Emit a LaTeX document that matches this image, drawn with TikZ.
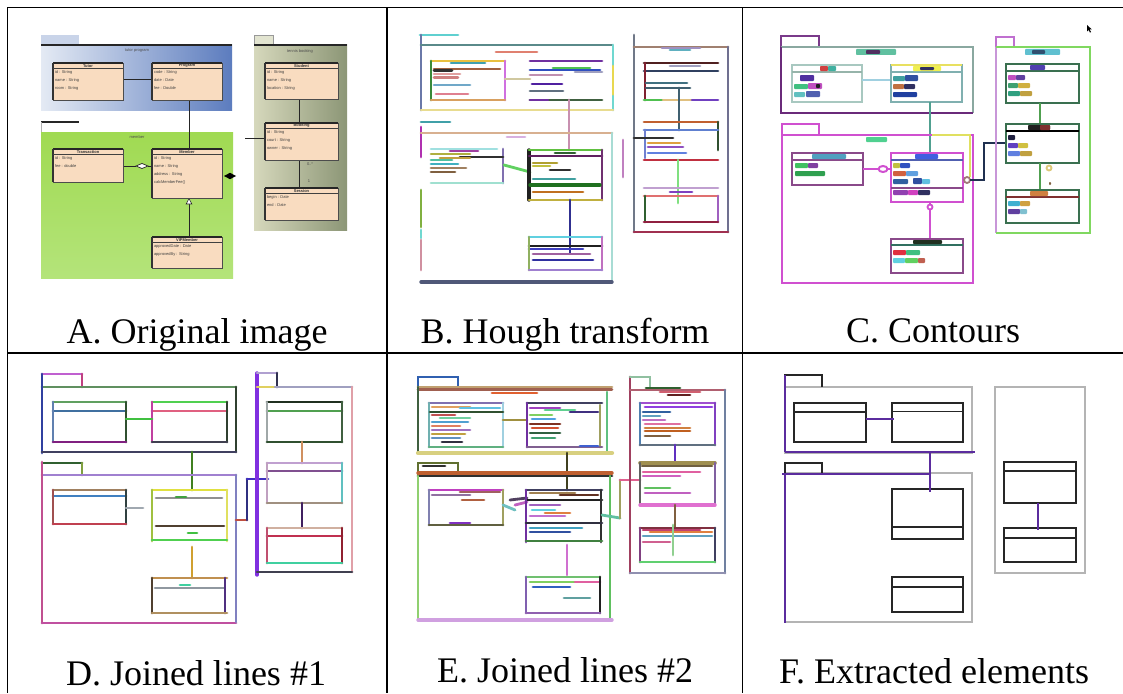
\documentclass[tikz,border=0pt]{standalone}
\usepackage{fontspec}
\setmainfont{Liberation Serif}
\newfontfamily\umlfont{Liberation Sans}
\usetikzlibrary{shapes.geometric}

\definecolor{peach}{HTML}{F9DCC0}
\definecolor{blueL}{HTML}{E4EAF4}
\definecolor{blueR}{HTML}{5C7CBE}
\definecolor{oliveL}{HTML}{D6D8BC}
\definecolor{oliveR}{HTML}{8C9676}
\definecolor{greenT}{HTML}{A0DA52}
\definecolor{greenB}{HTML}{B4E47A}
\definecolor{fpurple}{HTML}{5B2C9E}
\definecolor{fgray}{HTML}{B4B4B4}

% coloured detected segment
\newcommand\cseg[3][]{\definecolor{segc}{HTML}{#2}\draw[seg,segc,#1] #3;}
% coloured blob standing for a detected text contour
\newcommand\blob[5]{\definecolor{blobc}{HTML}{#1}\fill[blobc,rounded corners=0.8pt] (#2,#3) rectangle (#4,#5);}
% UML class of the source diagram: x1,y1,x2,y2,name,attributes
\newcommand\pclass[6]{%
  \filldraw[classbox] (#1,#2) rectangle (#3,#4);
  \draw[line width=1.3pt,black!85] (#1,#2) -- (#3,#2);
  \draw[line width=1.3pt,black!80] (#1,#2) -- (#1,#4);
  \draw[line width=0.5pt,black!75] (#1,#2+5.5) -- (#3,#2+5.5);
  \node[clsname] at ({(#1+#3)/2},#2+2.9) {#5};
  \node[clsattr] at (#1+1.8,#2+7.2) {#6};
}
% extracted class box: x1,y1,x2,y2,y of the inner rule
\newcommand\fclass[5]{%
  \draw[fbox] (#1,#2) rectangle (#3,#4);
  \draw[fbox] (#1,#5) -- (#3,#5);
}

\tikzset{
  rule/.style={line width=1.8pt,black},
  seg/.style={line width=2.8pt,line cap=round},
  cnt/.style={line width=1.8pt},
  classbox/.style={fill=peach,draw=black!70,line width=0.6pt},
  clsname/.style={font=\umlfont\bfseries\fontsize{4}{4.5}\selectfont,text=black!80,inner sep=0pt},
  clsattr/.style={font=\umlfont\fontsize{4}{8.2}\selectfont,text=black!75,inner sep=0pt,anchor=north west,align=left},
  pkglabel/.style={font=\umlfont\fontsize{4}{4.5}\selectfont,text=black!70,inner sep=0pt},
  assoc/.style={line width=0.9pt,black!85},
  fbox/.style={line width=1.8pt,black!85},
  fline/.style={line width=2.6pt,fpurple},
  fpkg/.style={line width=1.2pt,fgray},
  captxt/.style={font=\fontsize{36}{40}\selectfont,inner sep=0pt,anchor=base},
}

\begin{document}
\begin{tikzpicture}[x=1pt,y=-1pt]
\useasboundingbox (0,0) rectangle (1123,693);
\fill[white] (0,0) rectangle (1123,693);

% ---------------- table rules ----------------
\draw[rule] (7.5,7.5) -- (1123,7.5);
\draw[rule] (7.5,353) -- (1123,353);
\draw[rule] (7.5,7.5) -- (7.5,693);
\draw[rule] (387,7.5) -- (387,693);
\draw[rule] (742.5,7.5) -- (742.5,693);

% ---------------- A. original diagram ----------------
% package: tutor program
\fill[blueL!80!blueR] (41,35) rectangle (79,45);
\shade[left color=blueL,right color=blueR] (41,45) rectangle (232,110);
\draw[line width=1.2pt,black!85] (41,45) -- (232,45);
\node[pkglabel] (pkgA1) at (137,50.5) {tutor program};
% package: tennis booking
\filldraw[fill=oliveL!70!white,draw=black!40,line width=0.4pt] (254,35) rectangle (273,45);
\shade[left color=oliveL,right color=oliveR] (254,45) rectangle (347,230);
\draw[line width=1.2pt,black!85] (254,45) -- (347,45);
\node[pkglabel] (pkgA2) at (300,51) {tennis booking};
% package: member
\shade[top color=greenT,bottom color=greenB] (41,132) rectangle (233,278);
\draw[line width=1.2pt,black!85] (41,122) -- (79,122);
\draw[line width=0.4pt,black!30] (41,122) -- (41,132);
\node[pkglabel] (pkgA3) at (137,137) {member};

% associations
\draw[assoc] (123,79) -- (152,79);
\draw[assoc] (189,100) -- (189,149);
\draw[assoc] (123,166) -- (136,166);
\filldraw[fill=white,draw=black!85,line width=0.7pt] (136,166) -- (142,163.5) -- (148,166) -- (142,168.5) -- cycle;
\draw[assoc] (148,166) -- (152,166);
\fill[black] (224,176) -- (230,172.8) -- (236,176) -- (230,179.2) -- cycle;
\draw[assoc] (245,138) -- (265,138);
\draw[assoc] (299,99) -- (299,123);
\draw[assoc] (299,160) -- (299,188);
\node[pkglabel] (mulA1) at (310,164) {0..*};
\node[pkglabel] (mulA2) at (309,181) {1};
\draw[assoc] (189,204) -- (189,237);
\filldraw[fill=white,draw=black!85,line width=0.6pt] (189,198.5) -- (191.8,204) -- (186.2,204) -- cycle;

% classes
\pclass{53}{63}{123}{100}{Tutor}{id : String\\name : String\\room : String}
\pclass{152}{63}{222}{100}{Program}{code : String\\date : Date\\fee : Double}
\pclass{265}{63}{338}{99}{Student}{id : String\\name : String\\location : String}
\pclass{265}{123}{338}{160}{Booking}{id : String\\court : String\\owner : String}
\pclass{265}{188}{338}{220}{Session}{begin : Date\\end : Date}
\pclass{53}{149}{123}{182}{Transaction}{id : String\\fee : double}
\pclass{152}{149}{222}{198}{Member}{id : String\\name : String\\address : String\\calcMemberFee()}
\pclass{152}{237}{222}{268}{VIPMember}{approvedDate : Date\\approvedBy : String}

% ---------------- B. Hough transform ----------------
\cseg{5FD0D0}{(420,35)--(458,35)}
\cseg{6A78A8}{(421,35)--(421,110)}
\cseg{5A8A8A}{(421,45)--(612,45)}
\cseg{E08070}{(496,52)--(537,52)}
\cseg{70D8D0}{(613,45)--(613,66)}
\cseg{E8D850}{(613,66)--(613,96)}
\cseg{70D8D0}{(613,96)--(613,110)}
\cseg{E8DC90}{(421,110)--(613,110)}
\cseg{E8C040}{(431,61)--(505,61)}
\cseg{3A8A3A}{(431,61)--(431,100)}
\cseg{D070E0}{(505,61)--(505,100)}
\cseg{D8A060}{(431,100)--(505,100)}
\cseg{40A0B0}{(451,63)--(485,63)}
\cseg{A06040}{(434,69)--(500,69)}
\cseg{303030}{(434,70.5)--(452,70.5)}
\cseg{E0A0A0}{(434,74)--(460,74)}
\cseg{D08080}{(434,77.5)--(458,77.5)}
\cseg{70A8C8}{(434,85)--(470,85)}
\cseg{E08090}{(436,94)--(468,94)}
\cseg{D0C8A0}{(505,79)--(530,79)}
\cseg{7030A0}{(530,61)--(602,61)}
\cseg{3050C0}{(530,70)--(600,70)}
\cseg{50C050}{(553,68)--(590,68)}
\cseg{A0A0C0}{(575,72)--(602,72)}
\cseg{C090B0}{(530,75)--(562,75)}
\cseg{5020A0}{(532,84)--(562,84)}
\cseg{607080}{(530,91)--(563,91)}
\cseg{406040}{(530,100)--(602,100)}
\cseg{7030A0}{(530,100)--(548,100)}
\cseg{C890B0}{(569,100)--(569,150)}
% lower package
\cseg{40A0A8}{(421,122)--(450,122)}
\cseg{B030B0}{(421,127)--(421,157)}
\cseg{80B040}{(421,190)--(421,227)}
\cseg{70D8D0}{(421,230)--(421,238)}
\cseg{D090A0}{(421,240)--(421,270)}
\cseg{D8B090}{(421,133)--(612,133)}
\cseg{D8B0E0}{(507,137)--(525,137)}
\cseg{A8DCD4}{(612,133)--(612,282)}
\cseg[line width=3.4pt]{505878}{(421,282)--(612,282)}
% transaction
\cseg{A0E0E0}{(431,149)--(497,149)}
\cseg{8070B0}{(503,149)--(503,183)}
\cseg{A0E0D0}{(431,183)--(503,183)}
\cseg{A040A0}{(450,151)--(478,151)}
\cseg{B0B040}{(431,154)--(470,154)}
\cseg{303030}{(460,157)--(503,157)}
\cseg{50C0A0}{(431,160)--(452,160)}
\cseg{C0A040}{(440,158)--(470,158)}
\cseg{40B0C0}{(431,164)--(458,164)}
\cseg{A08060}{(431,168)--(466,168)}
\cseg{806040}{(431,172)--(455,172)}
\cseg{60D060}{(504,165)--(530,172)}
% member
\cseg[line width=3.4pt]{202020}{(529,150)--(529,200)}
\cseg{60C040}{(529,150)--(602,150)}
\cseg{602060}{(529,156)--(602,156)}
\cseg{306030}{(555,153)--(575,153)}
\cseg{703070}{(602,150)--(602,200)}
\cseg{C0B040}{(529,200)--(602,200)}
\cseg{B0A030}{(533,163)--(557,163)}
\cseg{303030}{(550,170)--(570,170)}
\cseg{C0C040}{(533,166)--(550,166)}
\cseg{40A0A0}{(533,179)--(575,179)}
\cseg[line width=3.4pt]{207020}{(530,185)--(600,185)}
\cseg{C07020}{(533,192)--(583,192)}
\cseg{303090}{(570,200)--(570,253)}
% vip member
\cseg{60D0E0}{(529,237)--(602,237)}
\cseg{202020}{(529,246)--(602,246)}
\cseg{4040C0}{(529,249)--(583,249)}
\cseg{A060A0}{(533,254)--(590,254)}
\cseg{3030A0}{(533,260)--(593,260)}
\cseg{90B060}{(529,237)--(529,270)}
\cseg{C070C0}{(602,237)--(602,270)}
\cseg{A080D0}{(529,270)--(602,270)}
% right package
\cseg{707888}{(634,35)--(634,232)}
\cseg{A08070}{(634,47)--(728,47)}
\cseg{A090C0}{(662,48)--(700,48)}
\cseg{60B0C0}{(670,50)--(690,50)}
\cseg{707090}{(728,47)--(728,232)}
\cseg{A03050}{(634,232)--(728,232)}
\cseg{C080C0}{(623,140)--(623,177)}
% student
\cseg{502020}{(644,63)--(718,63)}
\cseg{A0A0C0}{(670,66)--(700,66)}
\cseg{304060}{(644,71)--(718,71)}
\cseg{802030}{(645,63)--(645,100)}
\cseg{407080}{(646,83)--(687,83)}
\cseg{406070}{(646,88)--(690,88)}
\cseg{50C050}{(644,100)--(663,100)}
\cseg{E0C080}{(663,100)--(692,100)}
\cseg{7040C0}{(692,100)--(718,100)}
\cseg{406070}{(679,88)--(679,130)}
% booking
\cseg{C06030}{(644,122)--(718,122)}
\cseg{305030}{(718,122)--(718,150)}
\cseg{6080D0}{(644,130)--(718,130)}
\cseg{7080D0}{(645,130)--(645,158)}
\cseg{303030}{(634,138)--(673,138)}
\cseg{E0A040}{(648,143)--(680,143)}
\cseg{9050C0}{(648,147)--(683,147)}
\cseg{6080E0}{(648,153)--(686,153)}
\cseg{C03040}{(644,160)--(718,160)}
\cseg{80E080}{(678,160)--(678,203)}
% session
\cseg{C0A0D0}{(644,188)--(718,188)}
\cseg{8040C0}{(670,192)--(692,192)}
\cseg{E07070}{(644,196)--(718,196)}
\cseg{306030}{(645,196)--(645,222)}
\cseg{A060C0}{(718,196)--(718,222)}
\cseg{902040}{(644,222)--(718,222)}

% ---------------- C. contours ----------------
\draw[cnt,line width=2.4pt,color={rgb,255:red,122;green,58;blue,138}] (781,47) -- (781,36) -- (819,36) -- (819,47);
\draw[cnt,color={rgb,255:red,138;green,168;blue,160}] (781,47) -- (973,47) -- (973,113);
\draw[cnt,line width=2.4pt,color={rgb,255:red,106;green,42;blue,122}] (781,47) -- (781,113) -- (973,113);
\blob{60C0A0}{856}{49}{896}{55}
\blob{503060}{866}{50}{880}{54}
% tutor
\draw[cnt,color={rgb,255:red,168;green,200;blue,192}] (792,65) rectangle (862,102);
\draw[cnt,color={rgb,255:red,150;green,180;blue,170}] (792,72) -- (862,72);
\blob{D04040}{820}{66}{828}{71}
\blob{40B0A0}{828}{66}{836}{71}
\blob{5030A0}{800}{75}{814}{81}
\blob{40C080}{794}{84}{808}{89}
\blob{C050C0}{808}{83}{822}{89}
\blob{202020}{816}{84}{820}{88}
\blob{60C0C0}{794}{92}{805}{97}
\blob{5060B0}{806}{91}{820}{97}
\draw[cnt,line width=1.2pt,color={rgb,255:red,160;green,208;blue,224}] (862,80) -- (891,80);
% program
\draw[cnt,color={rgb,255:red,128;green,176;blue,176}] (891,65) rectangle (962,102);
\draw[cnt,color={rgb,255:red,232;green,224;blue,96}] (891,65) -- (962,65);
\draw[cnt,color={rgb,255:red,128;green,176;blue,176}] (891,72) -- (962,72);
\blob{F0F050}{913}{66}{941}{71}
\blob{303060}{920}{67}{934}{70}
\blob{40A0A0}{893}{76}{905}{81}
\blob{3050A0}{905}{75}{918}{81}
\blob{C07040}{893}{84}{904}{89}
\blob{303060}{904}{84}{915}{89}
\blob{2040A0}{893}{92}{917}{97}
\draw[cnt,color={rgb,255:red,80;green,160;blue,144}] (930,102) -- (930,153);
% member package
\draw[cnt,line width=2.4pt,color={rgb,255:red,208;green,80;blue,208}] (782,135) -- (782,124) -- (819,124) -- (819,135);
\draw[cnt,line width=2.4pt,color={rgb,255:red,208;green,80;blue,208}] (782,135) rectangle (973,283);
\draw[cnt,line width=2.4pt,color={rgb,255:red,224;green,224;blue,96}] (932,135) -- (970,135) -- (970,177);
\blob{50D090}{866}{137}{887}{142}
% transaction
\draw[cnt,line width=2.2pt,color={rgb,255:red,138;green,74;blue,138}] (792,153) rectangle (863,185);
\draw[cnt,color={rgb,255:red,138;green,74;blue,138}] (792,160) -- (863,160);
\blob{50A0C0}{812}{154}{846}{159}
\blob{40C060}{795}{163}{808}{168}
\blob{8040A0}{808}{163}{818}{168}
\blob{30A050}{795}{171}{825}{176}
\draw[cnt,line width=2.4pt,color={rgb,255:red,208;green,80;blue,208}] (863,169) -- (891,169);
\draw[cnt,line width=2pt,color={rgb,255:red,208;green,80;blue,208},fill=white] (883,169) ellipse (4.5pt and 3pt);
% member
\draw[cnt,line width=2.4pt,color={rgb,255:red,208;green,80;blue,208}] (891,153) rectangle (963,202);
\draw[cnt,color={rgb,255:red,80;green,96;blue,176}] (891,160) -- (963,160);
\draw[cnt,line width=2.2pt,color={rgb,255:red,138;green,74;blue,138}] (891,188) -- (963,188);
\blob{4060E0}{915}{154}{938}{159}
\blob{C0C040}{893}{163}{900}{168}
\blob{3050C0}{900}{163}{910}{168}
\blob{D06040}{893}{171}{906}{176}
\blob{60A0E0}{906}{171}{918}{176}
\blob{3060A0}{893}{179}{908}{184}
\blob{3050A0}{913}{178}{922}{184}
\blob{60C0E0}{922}{179}{930}{184}
\blob{9040B0}{893}{190}{908}{195}
\blob{D040C0}{908}{190}{918}{195}
\blob{303060}{918}{190}{930}{195}
\draw[cnt,line width=2.4pt,color={rgb,255:red,208;green,80;blue,208}] (930,202) -- (930,239);
\draw[cnt,color={rgb,255:red,208;green,80;blue,208},fill=white] (930,207) circle (2.5pt);
% vip member
\draw[cnt,line width=2.2pt,color={rgb,255:red,138;green,74;blue,138}] (891,239) rectangle (963,273);
\draw[cnt,color={rgb,255:red,48;green,112;blue,96}] (891,245) -- (963,245);
\blob{203020}{913}{240}{942}{244}
\blob{E03040}{893}{250}{906}{255}
\blob{40C080}{906}{250}{920}{255}
\blob{60D0E0}{893}{258}{905}{263}
\blob{60D060}{905}{258}{918}{263}
\blob{C06050}{918}{258}{925}{263}
% link to booking
\draw[cnt,color={rgb,255:red,160;green,120;blue,120},fill=white] (967,180) circle (3pt);
\draw[cnt,line width=2.6pt,color={rgb,255:red,32;green,48;blue,80}] (970,180) -- (984,180) -- (984,143) -- (1007,143);
% booking package
\draw[cnt,line width=2.2pt,color={rgb,255:red,192;green,112;blue,208}] (996,47) -- (996,37) -- (1014,37) -- (1014,47);
\draw[cnt,line width=2.2pt,color={rgb,255:red,200;green,150;blue,216}] (996,47) -- (996,233);
\draw[cnt,line width=2.2pt,color={rgb,255:red,128;green,216;blue,96}] (996,47) -- (1090,47) -- (1090,233) -- (996,233);
\blob{60C0D0}{1025}{49}{1060}{55}
\blob{305070}{1032}{50}{1045}{54}
% student
\draw[cnt,line width=2.2pt,color={rgb,255:red,58;green,112;blue,80}] (1006,64) rectangle (1079,103);
\draw[cnt,color={rgb,255:red,58;green,112;blue,80}] (1006,71) -- (1079,71);
\blob{5040B0}{1030}{65}{1045}{70}
\blob{C050C0}{1008}{75}{1016}{80}
\blob{6040A0}{1016}{75}{1025}{80}
\blob{40A070}{1008}{83}{1018}{88}
\blob{D0B040}{1018}{83}{1030}{88}
\blob{30A080}{1008}{91}{1020}{96}
\blob{C0A040}{1020}{91}{1032}{96}
\draw[cnt,line width=2.4pt,color={rgb,255:red,80;green,160;blue,80}] (1040,103) -- (1040,124);
% booking
\draw[cnt,line width=2.2pt,color={rgb,255:red,58;green,112;blue,80}] (1006,124) rectangle (1079,163);
\draw[cnt,black] (1006,131) -- (1079,131);
\blob{202020}{1028}{125}{1050}{130}
\blob{803030}{1040}{125}{1050}{130}
\blob{202040}{1008}{135}{1015}{140}
\blob{6040C0}{1008}{143}{1018}{148}
\blob{D0C040}{1018}{143}{1028}{148}
\blob{6080E0}{1008}{151}{1020}{156}
\blob{C0A040}{1020}{151}{1032}{156}
\draw[cnt,line width=2.4pt,color={rgb,255:red,80;green,160;blue,80}] (1040,163) -- (1040,190);
\draw[cnt,color={rgb,255:red,220;green,200;blue,120}] (1049,168) circle (2.5pt);
\blob{806040}{1049}{182}{1051}{185}
% session
\draw[cnt,line width=2.2pt,color={rgb,255:red,58;green,112;blue,80}] (1006,190) rectangle (1079,223);
\draw[cnt,color={rgb,255:red,128;green,48;blue,48}] (1006,197) -- (1079,197);
\blob{D08040}{1030}{191}{1048}{196}
\blob{40B0D0}{1008}{201}{1020}{206}
\blob{D0A040}{1020}{201}{1030}{206}
\blob{6040A0}{1008}{209}{1020}{214}
\blob{80C0D0}{1020}{209}{1027}{214}
% pointer
\fill[black] (1087,25) -- (1087,31.5) -- (1088.6,30) -- (1090,32.6) -- (1091,32) -- (1089.7,29.5) -- (1091.8,29.4) -- cycle;

% ---------------- D. joined lines #1 ----------------
\cseg{C060D0}{(42,374)--(82,374)}
\cseg{C04080}{(82,374)--(82,387)}
\cseg{609060}{(42,387)--(236,387)}
\cseg{3040A0}{(42,374)--(42,453)}
\cseg{304030}{(236,387)--(236,452)}
\cseg{404060}{(42,452)--(236,452)}
\cseg{60A060}{(53,402)--(126,402)}
\cseg{4070A0}{(53,411)--(126,411)}
\cseg{6080B0}{(53,402)--(53,442)}
\cseg{305030}{(126,402)--(126,442)}
\cseg{802080}{(53,442)--(126,442)}
\cseg{50D050}{(152,402)--(227,402)}
\cseg{E06080}{(152,411)--(227,411)}
\cseg{C040A0}{(152,402)--(152,442)}
\cseg{304030}{(227,402)--(227,442)}
\cseg{404050}{(152,442)--(227,442)}
\cseg{40C040}{(126,419)--(152,419)}
\cseg{408020}{(192,452)--(192,490)}
\cseg{306030}{(42,463)--(82,463)}
\cseg{80A040}{(82,463)--(82,475)}
\cseg{A080D0}{(42,475)--(236,475)}
\cseg{C05090}{(42,462)--(42,623)}
\cseg{C050A0}{(42,623)--(236,623)}
\cseg{8080C0}{(236,475)--(236,622)}
\cseg{A08060}{(53,490)--(126,490)}
\cseg{4080C0}{(53,496)--(126,496)}
\cseg{A05050}{(53,490)--(53,524)}
\cseg{304040}{(126,490)--(126,524)}
\cseg{C04050}{(53,524)--(126,524)}
\cseg{A0A8B0}{(126,508)--(143,508)}
\cseg{E0E040}{(152,490)--(227,490)}
\cseg{A0C040}{(152,490)--(152,541)}
\cseg{E0E060}{(227,490)--(227,541)}
\cseg{909090}{(156,498)--(222,498)}
\cseg{40A040}{(176,497)--(186,497)}
\cseg{504030}{(156,526)--(224,526)}
\cseg{40C040}{(188,533)--(197,533)}
\cseg{50D050}{(152,540)--(227,540)}
\cseg{D0A030}{(192,547)--(192,578)}
\cseg{C09050}{(152,578)--(227,578)}
\cseg{9098A0}{(155,588)--(224,588)}
\cseg{40D0A0}{(180,585)--(190,585)}
\cseg{504030}{(152,578)--(152,613)}
\cseg{503080}{(225,578)--(225,613)}
\cseg{B09060}{(152,613)--(227,613)}
\cseg{C05040}{(236,520)--(247,520)}
\cseg{303080}{(247,520)--(247,479)}
\cseg{4030C0}{(247,479)--(268,479)}
\cseg[line width=3.4pt]{8030E0}{(257,373)--(257,575)}
\cseg{B0A0D0}{(257,373)--(277,373)}
\cseg{303050}{(277,373)--(277,387)}
\cseg{E0D060}{(257,387)--(275,387)}
\cseg{A0A0C0}{(275,387)--(352,387)}
\cseg{E0A0A8}{(352,387)--(352,572)}
\cseg{404050}{(257,572)--(352,572)}
\cseg{203020}{(267,402)--(342,402)}
\cseg{50A050}{(267,411)--(342,411)}
\cseg{A0A8A8}{(267,402)--(267,442)}
\cseg{406040}{(342,402)--(342,442)}
\cseg{305030}{(267,442)--(342,442)}
\cseg{D09060}{(302,442)--(302,463)}
\cseg{C0A0D0}{(267,463)--(342,463)}
\cseg{805090}{(267,471)--(342,471)}
\cseg{C0A0C0}{(267,463)--(267,503)}
\cseg{60C0C0}{(342,463)--(342,503)}
\cseg{A09080}{(267,503)--(342,503)}
\cseg{402060}{(302,503)--(302,528)}
\cseg{D0B0A0}{(267,528)--(342,528)}
\cseg{C03050}{(267,536)--(342,536)}
\cseg{C05070}{(267,528)--(267,563)}
\cseg{902030}{(342,528)--(342,563)}
\cseg{40D0A0}{(267,563)--(342,563)}

% ---------------- E. joined lines #2 ----------------
\cseg{3060B0}{(418,387)--(418,377)--(458,377)--(458,387)}
\cseg{C0A070}{(418,387)--(612,387)}
\cseg{A06050}{(418,389.5)--(612,389.5)}
\cseg{E06030}{(492,393)--(537,393)}
\cseg{406040}{(418,387)--(418,453)}
\cseg{60C080}{(607,392)--(607,453)}
\cseg[line width=4.2pt]{D8D080}{(418,453)--(612,453)}
\cseg{8070B0}{(429,403)--(503,403)}
\cseg{70B0B0}{(429,403)--(429,447)}
\cseg{A0D0E0}{(503,403)--(503,447)}
\cseg{60B080}{(429,447)--(503,447)}
\cseg{E0A060}{(432,407)--(470,407)}
\cseg{60C0E0}{(460,408)--(500,408)}
\cseg{305030}{(430,412)--(503,412)}
\cseg{C05050}{(432,415)--(455,415)}
\cseg{70D0A0}{(440,418)--(470,418)}
\cseg{50A0D0}{(432,422)--(468,422)}
\cseg{E08060}{(432,426)--(460,426)}
\cseg{A070C0}{(432,430)--(470,430)}
\cseg{C0A040}{(432,434)--(465,434)}
\cseg{6090C0}{(432,438)--(460,438)}
\cseg{303040}{(442,442)--(462,442)}
\cseg{A09040}{(503,420)--(527,420)}
\cseg{404060}{(527,403)--(602,403)}
\cseg{7030A0}{(527,403)--(527,447)}
\cseg{A0A060}{(600,405)--(600,447)}
\cseg{806090}{(527,447)--(602,447)}
\cseg{4060D0}{(580,446)--(598,446)}
\cseg{A040C0}{(530,408)--(560,408)}
\cseg{60D090}{(545,410)--(575,410)}
\cseg{403080}{(570,412)--(598,412)}
\cseg{80D060}{(530,415)--(552,415)}
\cseg{50A0E0}{(532,419)--(555,419)}
\cseg{803020}{(530,424)--(560,424)}
\cseg{D05030}{(532,428)--(558,428)}
\cseg{306040}{(530,433)--(560,433)}
\cseg{40A070}{(532,438)--(555,438)}
\cseg{404020}{(567,453)--(567,490)}
\cseg{607030}{(418,475)--(418,463)--(458,463)--(458,475)}
\cseg{303030}{(423,466)--(445,466)}
\cseg[line width=3.4pt]{C06030}{(418,473)--(612,473)}
\cseg{303030}{(418,476)--(612,476)}
\cseg{90D070}{(418,476)--(418,620)}
\cseg{60C060}{(610,476)--(610,620)}
\cseg[line width=3.4pt]{D0A0E0}{(418,620)--(612,620)}
\cseg{C040C0}{(429,490)--(503,490)}
\cseg{A06060}{(460,492)--(500,492)}
\cseg{8080B0}{(429,490)--(429,525)}
\cseg{A0A060}{(503,490)--(503,525)}
\cseg{606040}{(429,525)--(503,525)}
\cseg{9070A0}{(432,495)--(470,495)}
\cseg{B06040}{(462,500)--(484,500)}
\cseg{8030C0}{(450,523)--(470,523)}
\cseg{70C0C0}{(503,505)--(515,510)}
\cseg{C060C0}{(515,505)--(527,502)}
\cseg{504060}{(510,500)--(527,498)}
\cseg{404060}{(526,490)--(602,490)}
\cseg{A08050}{(530,493)--(575,493)}
\cseg{603020}{(560,495)--(598,495)}
\cseg{202020}{(526,500)--(602,500)}
\cseg{7030A0}{(526,490)--(526,542)}
\cseg{303030}{(601,490)--(601,542)}
\cseg{A060C0}{(530,505)--(560,505)}
\cseg{60D0E0}{(532,510)--(555,510)}
\cseg{E08040}{(545,513)--(570,513)}
\cseg{C070D0}{(530,516)--(565,516)}
\cseg{303040}{(526,523)--(602,523)}
\cseg{40A0C0}{(530,528)--(582,528)}
\cseg{3050A0}{(530,532)--(570,532)}
\cseg{408040}{(526,541)--(602,541)}
\cseg{60C0A0}{(602,515)--(620,518)}
\cseg{A0A060}{(620,518)--(620,480)}
\cseg{E06090}{(620,480)--(640,480)}
\cseg{D070D0}{(567,545)--(567,575)}
\cseg{70C070}{(526,577)--(600,577)}
\cseg{80D060}{(530,582)--(575,582)}
\cseg{E060A0}{(575,582)--(600,582)}
\cseg{3060C0}{(533,587)--(570,587)}
\cseg{60A0A0}{(564,598)--(590,598)}
\cseg{8060B0}{(526,577)--(526,613)}
\cseg{202020}{(600,577)--(600,613)}
\cseg{9060B0}{(526,613)--(600,613)}
\cseg{A04060}{(630,377)--(630,573)}
\cseg{90C0A0}{(630,377)--(650,377)--(650,388)}
\cseg{B06070}{(630,390)--(725,390)}
\cseg{306030}{(646,388)--(680,388)}
\cseg{D06070}{(660,392)--(700,392)}
\cseg{602020}{(668,395)--(690,395)}
\cseg{7080A0}{(725,390)--(725,573)}
\cseg{9090B0}{(630,573)--(725,573)}
\cseg{A050D0}{(640,403)--(715,403)}
\cseg{5080B0}{(640,403)--(640,445)}
\cseg{8040C0}{(715,403)--(715,445)}
\cseg{607080}{(640,445)--(715,445)}
\cseg{9040E0}{(645,407)--(712,407)}
\cseg{3060A0}{(643,412)--(670,412)}
\cseg{60A0C0}{(643,416)--(660,416)}
\cseg{C070C0}{(643,420)--(665,420)}
\cseg{E070A0}{(645,424)--(680,424)}
\cseg{D08040}{(645,428)--(690,428)}
\cseg{C06020}{(645,431)--(690,431)}
\cseg{806040}{(645,436)--(670,436)}
\cseg{6030C0}{(675,445)--(675,463)}
\cseg[line width=3.6pt]{A09050}{(640,463)--(715,463)}
\cseg{706040}{(642,466)--(712,466)}
\cseg{606060}{(640,463)--(640,505)}
\cseg{8060A0}{(715,463)--(715,505)}
\cseg{E060A0}{(643,472)--(700,472)}
\cseg{D060C0}{(643,476)--(680,476)}
\cseg{60C060}{(645,488)--(670,488)}
\cseg{C060C0}{(645,493)--(690,493)}
\cseg[line width=3.4pt]{E070D0}{(640,505)--(715,505)}
\cseg{806040}{(675,505)--(675,528)}
\cseg{803040}{(640,528)--(715,528)}
\cseg{C04070}{(643,530)--(700,530)}
\cseg{E08040}{(650,532)--(712,532)}
\cseg{60A0C0}{(643,536)--(712,536)}
\cseg{804080}{(640,528)--(640,562)}
\cseg{404060}{(715,528)--(715,562)}
\cseg{60D070}{(640,562)--(715,562)}
\cseg{D06090}{(643,542)--(670,542)}
\cseg{90D090}{(673,525)--(673,555)}

% ---------------- F. extracted elements ----------------
\draw[fpkg] (785,387) rectangle (972,453);
\draw[fpkg] (785,473) rectangle (972,622);
\draw[fpkg] (995,387) rectangle (1085,573);
\draw[fbox] (785,387) -- (785,375) -- (822,375) -- (822,387);
\draw[fbox] (785,473) -- (785,463) -- (822,463) -- (822,473);
\fclass{794}{403}{866}{442}{412}
\fclass{892}{403}{963}{442}{411.5}
\fclass{892}{489}{963}{539}{527}
\fclass{892}{577}{963}{612}{587}
\fclass{1004}{462}{1076}{503}{471}
\fclass{1004}{528}{1076}{562}{538}
\draw[fline] (785,375) -- (785,452);
\draw[fline] (785,452) -- (975,452);
\draw[fline] (866,419) -- (894,419);
\draw[fline] (930,452) -- (930,492);
\draw[fline] (782,474) -- (930,474);
\draw[fline] (785,474) -- (785,623);
\draw[fline] (1038,503) -- (1038,530);

% ---------------- captions ----------------
\node[captxt] (capA) at (197,343) {A. Original image};
\node[captxt] (capB) at (565,343) {B. Hough transform};
\node[captxt] (capC) at (933,342) {C. Contours};
\node[captxt] (capD) at (196,685) {D. Joined lines \#1};
\node[captxt] (capE) at (565,682) {E. Joined lines \#2};
\node[captxt] (capF) at (934,683) {F. Extracted elements};
\end{tikzpicture}
\end{document}
